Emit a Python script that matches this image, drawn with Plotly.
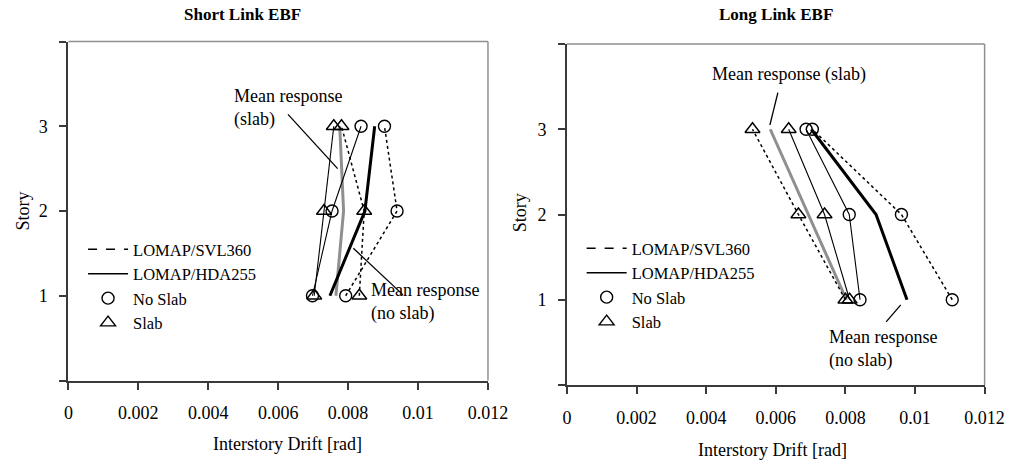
import plotly.graph_objects as go

# ---------------- data ----------------
story = [1, 2, 3]

# Short link EBF (interstory drift, rad)
short_svl_noslab = [0.00793, 0.00940, 0.00904]
short_svl_slab = [0.00832, 0.00846, 0.00781]
short_hda_noslab = [0.00698, 0.00754, 0.00837]
short_hda_slab = [0.00703, 0.00731, 0.00759]
short_mean_noslab = [0.00748, 0.00848, 0.00876]
short_mean_slab = [0.00765, 0.00787, 0.00776]

# Long link EBF
long_svl_noslab = [0.01107, 0.00961, 0.00705]
long_svl_slab = [0.00800, 0.00665, 0.00533]
long_hda_noslab = [0.00842, 0.00811, 0.00687]
long_hda_slab = [0.00812, 0.00740, 0.00637]
long_mean_noslab = [0.00977, 0.00888, 0.00702]
long_mean_slab = [0.00803, 0.00694, 0.00584]

x_tickvals = [0, 0.002, 0.004, 0.006, 0.008, 0.01, 0.012]
x_ticktext = ["0", "0.002", "0.004", "0.006", "0.008", "0.01", "0.012"]
y_tickvals = [0, 1, 2, 3, 4]
y_ticktext = ["", "1", "2", "3", ""]

legend_names = ["LOMAP/SVL360", "LOMAP/HDA255", "No Slab", "Slab"]

FONT = "Liberation Serif"
W, H = 1029, 466
GRAY = "#8f8f8f"

fig = go.Figure()


def add_panel(xa, ya, svl_ns, svl_s, hda_ns, hda_s, mean_ns, mean_s):
    # mean lines
    fig.add_trace(go.Scatter(x=mean_s, y=story, mode="lines", xaxis=xa, yaxis=ya,
                             line=dict(color=GRAY, width=3), showlegend=False))
    fig.add_trace(go.Scatter(x=mean_ns, y=story, mode="lines", xaxis=xa, yaxis=ya,
                             line=dict(color="black", width=3), showlegend=False))
    for xs, dash, sym in [(svl_ns, "dot", "circle-open"), (svl_s, "dot", "triangle-up-open"),
                          (hda_ns, "solid", "circle-open"), (hda_s, "solid", "triangle-up-open")]:
        fig.add_trace(go.Scatter(
            x=xs, y=story, mode="lines+markers", xaxis=xa, yaxis=ya,
            line=dict(color="black", width=1.5 if dash == "dot" else 1.1, dash=dash),
            marker=dict(symbol=sym, size=12 if sym == "circle-open" else 13,
                        color="black", line=dict(width=1.4, color="black")),
            showlegend=False))


add_panel("x", "y", short_svl_noslab, short_svl_slab, short_hda_noslab, short_hda_slab,
          short_mean_noslab, short_mean_slab)
add_panel("x2", "y2", long_svl_noslab, long_svl_slab, long_hda_noslab, long_hda_slab,
          long_mean_noslab, long_mean_slab)

# legend entries (one legend per panel)
for xa, ya, lg in [("x", "y", "legend"), ("x2", "y2", "legend2")]:
    fig.add_trace(go.Scatter(x=[None], y=[None], mode="lines", name=legend_names[0],
                             xaxis=xa, yaxis=ya, legend=lg,
                             line=dict(color="black", width=1.3, dash="dash")))
    fig.add_trace(go.Scatter(x=[None], y=[None], mode="lines", name=legend_names[1],
                             xaxis=xa, yaxis=ya, legend=lg,
                             line=dict(color="black", width=1.5)))
    fig.add_trace(go.Scatter(x=[None], y=[None], mode="markers", name=legend_names[2],
                             xaxis=xa, yaxis=ya, legend=lg,
                             marker=dict(symbol="circle-open", size=12, color="black",
                                         line=dict(width=1.4))))
    fig.add_trace(go.Scatter(x=[None], y=[None], mode="markers", name=legend_names[3],
                             xaxis=xa, yaxis=ya, legend=lg,
                             marker=dict(symbol="triangle-up-open", size=13, color="black",
                                         line=dict(width=1.4))))


def px_x(p):
    return p / W


def px_y(p):
    return 1 - p / H


axis_common = dict(showgrid=False, zeroline=False, showline=True, linecolor="#3a3a3a",
                   linewidth=2, ticks="outside", ticklen=7, tickwidth=1.5,
                   tickcolor="#3a3a3a",
                   tickfont=dict(family=FONT, size=18, color="black"))

xdom1 = [px_x(65), px_x(495)]
ydom1 = [px_y(380.5), px_y(41.5)]
xdom2 = [px_x(576), px_x(1004)]
ydom2 = [px_y(385), px_y(44)]

fig.update_layout(
    width=W, height=H, margin=dict(l=0, r=0, t=0, b=0),
    paper_bgcolor="white", plot_bgcolor="white",
    font=dict(family=FONT, size=18, color="black"),
    xaxis=dict(domain=xdom1, range=[0, 0.012], tickvals=x_tickvals, ticktext=x_ticktext,
               anchor="y", ticklabelstandoff=8, **axis_common),
    yaxis=dict(domain=ydom1, range=[0, 4], tickvals=y_tickvals, ticktext=y_ticktext,
               anchor="x", ticklabelstandoff=8, **axis_common),
    xaxis2=dict(domain=xdom2, range=[0, 0.012], tickvals=x_tickvals, ticktext=x_ticktext,
                anchor="y2", ticklabelstandoff=8, **axis_common),
    yaxis2=dict(domain=ydom2, range=[0, 4], tickvals=y_tickvals, ticktext=y_ticktext,
                anchor="x2", ticklabelstandoff=8, **axis_common),
    legend=dict(x=px_x(80), y=px_y(232), xanchor="left", yanchor="top",
                bgcolor="rgba(0,0,0,0)", font=dict(family=FONT, size=16.5, color="black"),
                itemwidth=40, tracegroupgap=0),
    legend2=dict(x=px_x(591), y=px_y(231), xanchor="left", yanchor="top",
                 bgcolor="rgba(0,0,0,0)", font=dict(family=FONT, size=16.5, color="black"),
                 itemwidth=40, tracegroupgap=0),
)

# light top/right frame lines
for xr, yr in [("x domain", "y domain"), ("x2 domain", "y2 domain")]:
    fig.add_shape(type="line", xref=xr, yref=yr, x0=0, x1=1, y0=1, y1=1,
                  line=dict(color=GRAY, width=1.5))
    fig.add_shape(type="line", xref=xr, yref=yr, x0=1, x1=1, y0=0, y1=1,
                  line=dict(color=GRAY, width=1.5))

TXT = dict(family=FONT, size=18, color="black")
BOLD = dict(family=FONT, size=17, color="black")


def label(text, x, y, xref="paper", yref="paper", xanchor="center", font=TXT, **kw):
    if xref == "paper":
        x = px_x(x)
    if yref == "paper":
        y = px_y(y)
    return dict(text=text, x=x, y=y, xref=xref, yref=yref, xanchor=xanchor,
                yanchor="middle", showarrow=False, font=font, **kw)


ann = [
    label("<b>Short Link EBF</b>", 243, 15, font=BOLD),
    label("<b>Long Link EBF</b>", 790, 15, font=BOLD),
    label("Story", 18, 211, textangle=-90),
    label("Story", 528, 213, textangle=-90),
    label("Interstory Drift [rad]", 290, 444),
    label("Interstory Drift [rad]", 787, 450),
    # mean-response callouts
    label("Mean response<br>(slab)", 0.00469, 3.21, xref="x", yref="y", xanchor="left", align="left"),
    label("Mean response<br>(no slab)", 0.0086, 0.93, xref="x", yref="y", xanchor="left", align="left"),
    label("Mean response (slab)", 0.00638, 3.64, xref="x2", yref="y2"),
    label("Mean response<br>(no slab)", 0.00746, 0.42, xref="x2", yref="y2", xanchor="left", align="left"),
]
fig.update_layout(annotations=ann)

pointer = dict(color="black", width=1.3)
fig.add_shape(type="line", xref="x", yref="y", x0=0.00628, y0=3.14, x1=0.0077, y1=2.5, line=pointer)
fig.add_shape(type="line", xref="x", yref="y", x0=0.00815, y0=1.56, x1=0.00957, y1=1.01, line=pointer)
fig.add_shape(type="line", xref="x2", yref="y2", x0=0.00606, y0=3.43, x1=0.00583, y1=3.05, line=pointer)
fig.add_shape(type="line", xref="x2", yref="y2", x0=0.00917, y0=0.74, x1=0.00959, y1=0.94, line=pointer)

fig.write_html("out.html")
